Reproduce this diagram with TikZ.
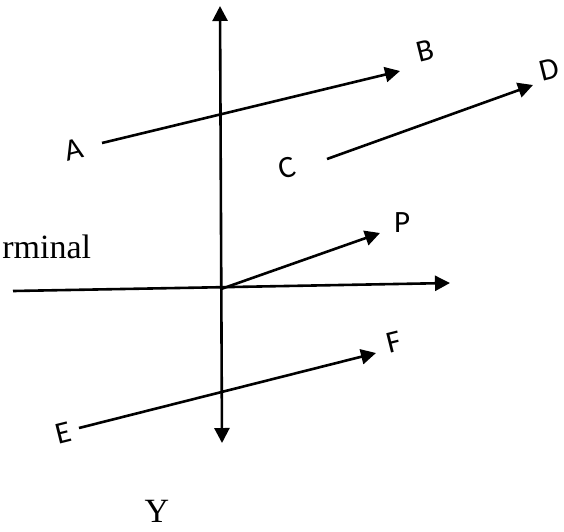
\documentclass[tikz,border=0pt]{standalone}
\usepackage{fontspec}
\setmainfont{Liberation Serif}
\newfontfamily\lblfont{Carlito}
\usetikzlibrary{arrows.meta}

\begin{document}
\begin{tikzpicture}[x=1pt, y=-1pt, line width=2.6pt, line cap=butt,
  arr/.style={-{Triangle[length=15pt,width=15pt]}},
  lbl/.style={anchor=center,inner sep=0pt,font=\lblfont\fontsize{31}{37}\selectfont},
  txt/.style={inner sep=0pt,font=\fontsize{34}{41}\selectfont}]

  %% ════ 端点 ════
  \coordinate (o)    at (221.0,289.0);
  \coordinate (ytop) at (220.0,6.0);
  \coordinate (ybot) at (222.0,443.0);
  \coordinate (xl)   at (13.0,291.0);
  \coordinate (xr)   at (450.0,283.0);
  \coordinate (pTip) at (380.0,233.0);
  \coordinate (aEnd) at (102.0,143.0);
  \coordinate (bEnd) at (400.0,71.0);
  \coordinate (cEnd) at (327.0,159.0);
  \coordinate (dEnd) at (533.0,85.0);
  \coordinate (eEnd) at (79.0,428.0);
  \coordinate (fEnd) at (376.0,353.0);

  %% ════ 坐标轴 ════
  \draw[{Triangle[length=15pt,width=15pt]}-{Triangle[length=15pt,width=15pt]}] (ytop) -- (ybot);
  \draw[arr] (xl) -- (xr);
  \draw[arr] (o) -- (pTip);

  %% ════ 箭头线段 ════
  \draw[arr] (aEnd) -- (bEnd);
  \draw[arr] (cEnd) -- (dEnd);
  \draw[arr] (eEnd) -- (fEnd);

  %% ════ 标签 ════
  \node[lbl,rotate=14] (A) at (74.0,150.0) {A};
  \node[lbl,rotate=14] (B) at (425.0,51.0) {B};
  \node[lbl,rotate=14] (C) at (287.0,168.0) {C};
  \node[lbl,rotate=14] (D) at (549.0,70.0) {D};
  \node[lbl] (P) at (402.0,223.0) {P};
  \node[lbl,rotate=14] (E) at (63.0,433.0) {E};
  \node[lbl,rotate=14] (F) at (394.0,342.0) {F};
  \node[txt,anchor=base west] (term) at (1.0,258.0) {rminal};
  \node[txt,font=\fontsize{34}{41}\selectfont] (Y) at (157.0,511.0) {Y};

  % 钉死画布
  \pgfresetboundingbox
  \path[use as bounding box] (0,0) rectangle (564,531);
\end{tikzpicture}
\end{document}
